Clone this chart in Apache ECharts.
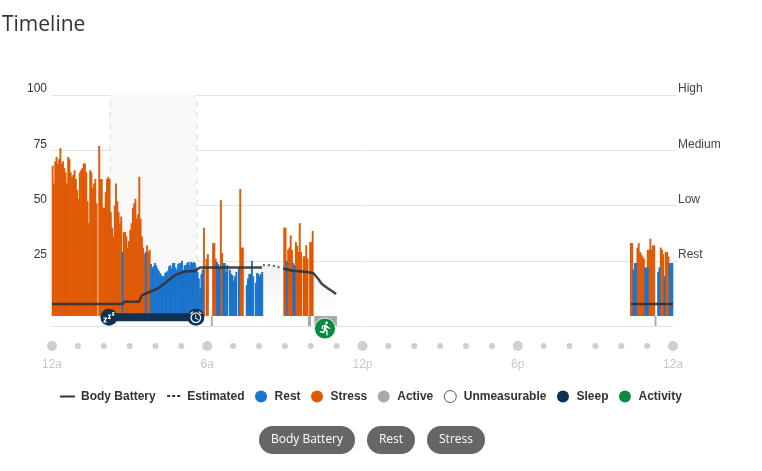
<!DOCTYPE html>
<html><head><meta charset="utf-8">
<style>html,body{margin:0;padding:0;background:#fff}#c{width:762px;height:471px}</style>
<script src="https://cdn.jsdelivr.net/npm/echarts@6/dist/echarts.min.js"></script></head>
<body><div id="c"></div>
<script>
const SLOT_HOURS = 0.05; // one reading every three minutes
// [first slot, values...] ; null = no reading
const stressNight = [0,
 68,60,70,72,69,71,76,69,70,67,65,60,72,71,65,63,64,66,62,57,53,65,66,67,69,69,65,52,42,66,65,58,60,62,51,null,
 77,62,62,49,49,56,62,63,62,47,40,36,50,60,52,47,42,45,null,38,38,36,31,34,39,42,49,51,53,44,46,63,44,36,31,28,null,32,29,30];
const restNight = [54, 29];
const restNight2 = [72, 29];
const restSleep = [76,
 23.5,22,22.5,24,23,21.5,20.5,19.5,18.5,18,18,19.5,20,20.5,22.5,23,21.5,24,24,22,21,23.5,24,24,25,21,23,23,24,24.5,23,24.5,24,24.5,24,22,20,17,12.5,19,21];
const stressMorning = [117,
 40,null,26,28,null,null,null,33,33,26,null,null,null,52.5,28.5,null,null,null,null,null,null,null,null,null,null,null,null,null,57.5,31,31];
const restMorning = [127,
 24.5,23.5,22,null,null,24,24,20,23,null,21,19,18.5,16,18,20,null,22,null,null,null,null,null,14,17,19,19,25,18,null,15,19.5,19,18,19,20];
const stressLate = [179,
 40,40,null,30,31,36.5,30,null,null,33.5,32,29,42,29,null,27,27,32,26,null,33.5,33.5,38.5];
const restLate = [181, 25,null,null,null,null,24,23];
const stressEvening = [447,
 33,33,null,null,null,31,33,29,28,27,26,null,null,30,30,35,30,32,32,null,null,null,null,31,30,28,null,29,29,27];
const restEvening = [449,
 21,24,24,null,null,null,null,null,null,22,22,22,null,null,null,null,null,null,null,20,22,null,null,null,18,null,null,null,24,24,24];
const activeSlots = [123,198,199,203,204,205,206,207,208,209,210,211,212,213,214,215,216,217,218,219,466];
const activeDepth = -4.5;

const batteryHours  = [0,2.74,2.78,3.36,3.48,3.79,4.09,4.37,4.75,5.07,5.53,5.72,8.12,8.13,8.93,9.31,9.78,10.09,10.28,10.43,10.67,10.86,10.98,10.99,22.38,24];
const batteryValues = [5.4,5.4,6.5,6.5,9.5,11,12.5,15,18.5,20,20.5,22,22,null,21.5,20.5,20,19.5,17,14.5,12.5,11,10,null,5.4,5.4];
const estimatedHours  = [8.15,8.4,8.7,8.85];
const estimatedValues = [23,23,22.5,21.5];

const sleepHours = [2.2,5.56];
const sleepLevel = -0.5;
const sleepWindow = [2.24,5.585];
const activityHour = 10.55;

const yTicks = [25,50,75,100];
const levelLabels = ['Rest','Low','Medium','High'];
const hourMarks = [0,1,2,3,4,5,6,7,8,9,10,11,12,13,14,15,16,17,18,19,20,21,22,23,24];
const hourLabels = {0:'12a',6:'6a',12:'12p',18:'6p',24:'12a'};
const legendNames = ['Body Battery','Estimated','Rest','Stress','Active','Unmeasurable','Sleep','Activity'];
const buttons = ['Body Battery','Rest','Stress'];

const COL = {rest:'#1a75cf',stress:'#e05a06',active:'#a8a8a8',sleep:'#0f3355',act:'#0a8a41',line:'#333',grid:'#e2e2e2',dot:'#cfcfcf'};
const FONT = '"Liberation Sans", Arial, sans-serif';
const FONT2 = '"Open Sans", sans-serif';

function toPoints(segs){
  const out=[];
  segs.forEach(s=>{ for(let k=1;k<s.length;k++){ if(s[k]!==null) out.push([(s[0]+k-1+0.5)*SLOT_HOURS,s[k]]); } });
  return out;
}
const ICON_RUN='path://M13.49 5.48c1.1 0 2-.9 2-2s-.9-2-2-2-2 .9-2 2 .9 2 2 2zm-3.6 13.9l1-4.4 2.1 2v6h2v-7.5l-2.1-2 .6-3c1.3 1.5 3.3 2.5 5.5 2.5v-2c-1.9 0-3.5-1-4.3-2.4l-1-1.6c-.4-.6-1-1-1.7-1-.3 0-.5.1-.8.1l-5.2 2.2v4.7h2v-3.4l1.8-.7-1.6 8.1-4.9-1-.4 2 7 1.4z';
const ICON_ALARM='path://M22 5.72l-4.6-3.86-1.29 1.53 4.6 3.86L22 5.72zM7.88 3.39L6.6 1.86 2 5.71l1.29 1.53 4.59-3.85zM12.5 8H11v6l4.75 2.85.75-1.23-4-2.37V8zM12 4c-4.97 0-9 4.03-9 9s4.03 9 9 9 9-4.03 9-9-4.03-9-9-9zm0 16c-3.87 0-7-3.13-7-7s3.13-7 7-7 7 3.13 7 7-3.13 7-7 7z';
const ICON_ZZZ='path://M1 12h7v2L4 20h4v2H1v-2l4-6H1zM10 6h6v2l-3 5h3v2h-6v-2l3-5h-3zM18 1h5v1.6l-2.4 3.6H23V8h-5V6.4l2.4-3.6H18z';
const ICON_LINE='path://M0 0L0 0M15 12L15 12M0 5H15V7H0Z';
const ICON_DOTS='path://M0 0L0 0M15 12L15 12M1 4.5H4V6.5H1ZM6 4.5H9V6.5H6ZM11 4.5H14V6.5H11Z';

const bar=(name,pts,color,z)=>({name,type:'bar',xAxisIndex:0,yAxisIndex:0,data:pts,barWidth:1.9,barGap:'-100%',
  itemStyle:{color},z,silent:true,animation:false,large:false});

const chart=echarts.init(document.getElementById('c'),null,{renderer:'canvas'});
const option={
 animation:false,
 textStyle:{fontFamily:FONT},
 title:{text:'Timeline',left:-3,top:10,textStyle:{fontFamily:FONT2,fontSize:21,fontWeight:400,color:'#333'}},
 grid:[{left:52,top:95,width:621,height:231},{left:52,top:336,width:621,height:20}],
 xAxis:[
  {gridIndex:0,type:'value',min:0,max:24,interval:6,show:false},
  {gridIndex:1,type:'value',min:0,max:24,interval:6,axisLine:{show:false},axisTick:{show:false},splitLine:{show:false},
   axisLabel:{margin:3,color:'#c8c8c8',fontSize:12,fontFamily:FONT,formatter:v=>hourLabels[v]||''}}
 ],
 yAxis:[
  {gridIndex:0,type:'value',min:-4.5,max:100,position:'left',axisLine:{show:false},
   axisTick:{show:false,customValues:[-4.5].concat(yTicks)},
   splitLine:{show:true,lineStyle:{color:COL.grid,width:1}},
   axisLabel:{customValues:yTicks,margin:5,color:'#333',fontSize:12,fontFamily:FONT,verticalAlign:'bottom',lineHeight:12}},
  {gridIndex:0,type:'value',min:-4.5,max:100,position:'right',axisLine:{show:false},splitLine:{show:false},
   axisTick:{show:true,length:4,inside:false,customValues:yTicks,lineStyle:{color:COL.grid}},
   axisLabel:{customValues:yTicks,margin:5,color:'#444',fontSize:12,fontFamily:FONT,verticalAlign:'bottom',lineHeight:12,
     formatter:v=>levelLabels[yTicks.indexOf(v)]}},
  {gridIndex:1,type:'value',min:-1,max:1,show:false}
 ],
 legend:{left:55,top:385,itemWidth:15,itemHeight:12,itemGap:10.5,selectedMode:false,
  textStyle:{fontFamily:FONT,fontSize:12,fontWeight:700,color:'#333',padding:[0,0,0,1]},
  data:[
   {name:legendNames[0],icon:ICON_LINE,itemStyle:{color:'#333'}},
   {name:legendNames[1],icon:ICON_DOTS,itemStyle:{color:'#333'}},
   {name:legendNames[2],icon:'circle',itemStyle:{color:COL.rest}},
   {name:legendNames[3],icon:'circle',itemStyle:{color:COL.stress}},
   {name:legendNames[4],icon:'circle',itemStyle:{color:COL.active}},
   {name:legendNames[5],icon:'circle',itemStyle:{color:'#fff',borderColor:'#555',borderWidth:1}},
   {name:legendNames[6],icon:'circle',itemStyle:{color:COL.sleep}},
   {name:legendNames[7],icon:'circle',itemStyle:{color:COL.act,borderWidth:0}}
  ]},
 series:[
  {name:'sleepWindow',type:'line',data:[],silent:true,z:1,
   markArea:{silent:true,itemStyle:{color:'#f8f8f8',opacity:1},data:[[{xAxis:sleepWindow[0],yAxis:0},{xAxis:sleepWindow[1],yAxis:100}]]},
   markLine:{silent:true,symbol:'none',z:1,label:{show:false},lineStyle:{color:'#ececec',type:[6,5],width:2},
     data:sleepWindow.map(h=>[{coord:[h,0]},{coord:[h,100]}])}},
  {name:'Unmeasurable',type:'bar',data:[]},
  {name:'Body Battery',type:'line',data:batteryHours.map((h,i)=>[h,batteryValues[i]]),showSymbol:false,symbol:'none',
   lineStyle:{color:COL.line,width:2.5,opacity:.9},itemStyle:{color:COL.line},
   areaStyle:{color:new echarts.graphic.LinearGradient(0,0,0,1,[{offset:0,color:'rgba(0,0,0,0.07)'},{offset:1,color:'rgba(0,0,0,0)'}])},z:4},
  {name:'Estimated',type:'line',data:estimatedHours.map((h,i)=>[h,estimatedValues[i]]),showSymbol:false,symbol:'none',
   lineStyle:{color:'#555',width:2,type:[2,3]},itemStyle:{color:'#555'},
   areaStyle:{color:new echarts.graphic.LinearGradient(0,0,0,1,[{offset:0,color:'rgba(0,0,0,0.07)'},{offset:1,color:'rgba(0,0,0,0)'}])},z:4},
  bar('Stress',toPoints([stressNight,stressMorning,stressLate,stressEvening]),COL.stress,2),
  bar('Rest',toPoints([restNight,restNight2,restSleep,restMorning,restLate,restEvening]),COL.rest,3),
  bar('Active',activeSlots.map(s=>[(s+0.5)*SLOT_HOURS,activeDepth]),COL.active,2),
  {name:'Sleep',type:'line',data:sleepHours.map(h=>[h,sleepLevel]),symbol:'circle',symbolSize:17,showSymbol:true,
   lineStyle:{color:COL.sleep,width:8,cap:'butt'},itemStyle:{color:COL.sleep},z:6,clip:false},
  {name:'sleepIcons',type:'scatter',clip:false,z:7,silent:true,itemStyle:{color:'#fff',opacity:1},symbolKeepAspect:true,
   data:[{value:[sleepHours[0],sleepLevel],symbol:ICON_ZZZ,symbolSize:[11,11]},
         {value:[sleepHours[1],sleepLevel],symbol:ICON_ALARM,symbolSize:[12,12]}]},
  {name:'Activity',type:'scatter',clip:false,z:7,silent:true,data:[[activityHour,activeDepth]],symbol:'circle',symbolSize:21,symbolOffset:[0,2.5],
   itemStyle:{color:COL.act,opacity:1,borderColor:'#e8f3ec',borderWidth:1}},
  {name:'activityIcon',type:'scatter',clip:false,z:8,silent:true,data:[[activityHour,activeDepth]],symbol:ICON_RUN,symbolSize:[14,14],symbolOffset:[0,2.5],symbolKeepAspect:true,
   itemStyle:{color:'#fff',opacity:1}},
  {name:'hourDots',type:'scatter',xAxisIndex:1,yAxisIndex:2,silent:true,
   data:hourMarks.map(h=>({value:[h,0],symbolSize:h%6===0?10:6})),
   itemStyle:{color:COL.dot,opacity:1}}
 ],
 graphic:(function(){
  const g=[];
  const boxes=[[259,96],[367,48],[427,58]];
  buttons.forEach((t,i)=>{
   g.push({type:'rect',silent:true,shape:{x:boxes[i][0],y:426,width:boxes[i][1],height:28,r:14},style:{fill:'#666'}});
   g.push({type:'text',silent:true,x:boxes[i][0]+boxes[i][1]/2,y:440,style:{text:t,fill:'#fff',font:'12px '+FONT2,textAlign:'center',textVerticalAlign:'middle'}});
  });
  return g;
 })()
};
chart.setOption(option);
</script></body></html>
